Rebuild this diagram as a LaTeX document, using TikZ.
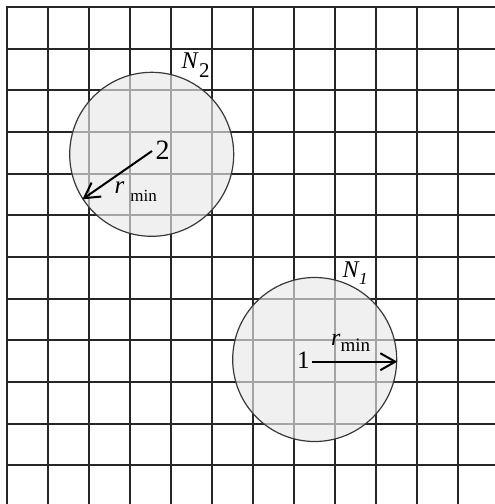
\documentclass[tikz,border=0pt]{standalone}
\usepackage{fontspec}
\setmainfont{Liberation Serif}
\usetikzlibrary{arrows.meta}
\begin{document}
\begin{tikzpicture}[x=1pt,y=-1pt,
  gridline/.style={draw=black!85,line width=1.7pt},
  disk/.style={circle,minimum size=164pt,inner sep=0pt,draw=black!78,line width=1.2pt,fill=black!9,fill opacity=0.65},
  radiusarrow/.style={line width=2pt,-{Straight Barb[length=15pt,width=17pt,line width=2pt]}},
  lbl/.style={inner sep=0pt,anchor=base west}
]
\useasboundingbox (0,0) rectangle (495,504);
\foreach \x in {7,48,89,130,171,212,253,294,335,376,417,458} \draw[gridline] (\x,6.15) -- (\x,504);
\foreach \y in {7,49,90,132,174,215,257,299,340,382,424,465} \draw[gridline] (6.15,\y) -- (495,\y);

\node[disk] (c2) at (151.7,154.3) {};
\node[disk] (c1) at (314.7,359.5) {};

\node[lbl] (n2) at (181.5,68.5) {{\fontsize{24}{24}\selectfont\itshape N}\kern1.5pt\raisebox{-9pt}{\fontsize{21}{21}\selectfont 2}};
\node[lbl] (n1) at (342.5,277) {{\fontsize{24}{24}\selectfont\itshape N}\kern0.5pt\raisebox{-7.3pt}{\fontsize{17}{17}\selectfont\itshape 1}};

\node[lbl] (l2) at (155.5,159.3) {\fontsize{28}{28}\selectfont 2};
\node[lbl] (l1) at (297,368.3) {\fontsize{25}{25}\selectfont 1};

\node[lbl] (r2) at (114.5,193.3) {{\fontsize{25}{25}\selectfont\itshape r}\kern6pt\raisebox{-8.4pt}{\fontsize{17}{17}\selectfont min}};
\node[lbl] (r1) at (331,345) {{\fontsize{24}{24}\selectfont\itshape r}\kern0pt\raisebox{-6.7pt}{\fontsize{19}{19}\selectfont min}};

\coordinate (a2) at (152,151);
\coordinate (a1) at (312,361.7);
\draw[radiusarrow] (a2) -- (c2.213.5);
\draw[radiusarrow] (a1) -- (a1 -| c1.east);
\end{tikzpicture}
\end{document}
